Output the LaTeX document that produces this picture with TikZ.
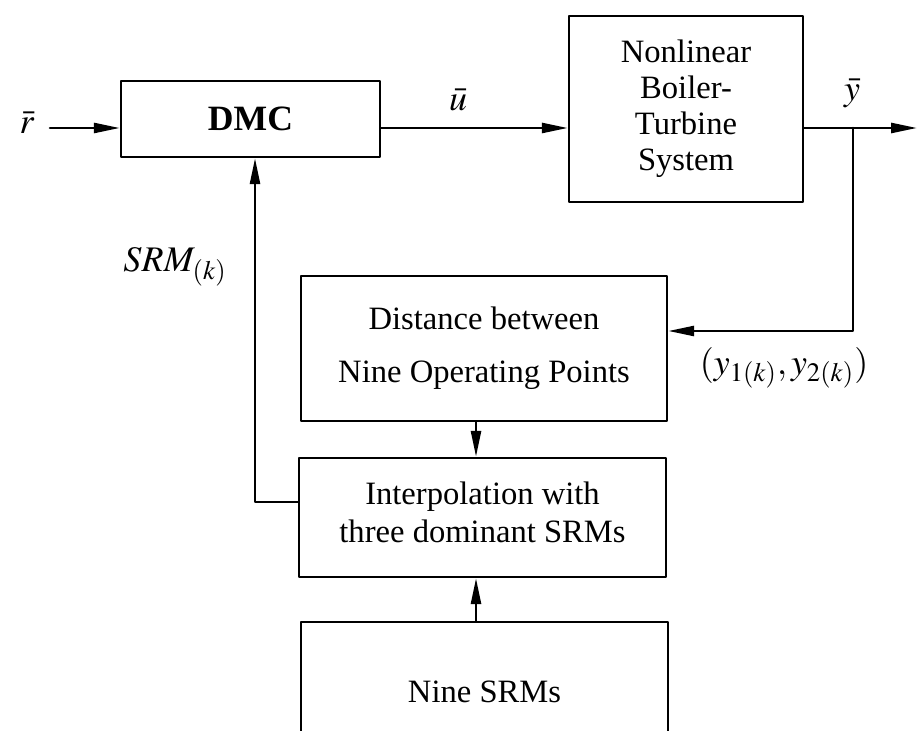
\documentclass[tikz,border=0pt]{standalone}
\usepackage{mathptmx}
\usepackage{fontspec}
\setmainfont{Liberation Serif}
\usetikzlibrary{arrows.meta}
\tikzset{
  blockbox/.style={draw,line width=1.2pt,inner sep=0pt,align=center,font=\fontsize{16.3}{18}\selectfont},
  siglabel/.style={inner sep=0pt,font=\fontsize{18}{20}\selectfont},
}
\begin{document}
\begin{tikzpicture}[line cap=round,line join=round,>={Triangle[length=13pt,width=5pt]},x=0.5pt,y=-0.5pt]
		\useasboundingbox (0,0) rectangle (919,731);
		% blocks
		\node [blockbox,minimum width=259*0.5pt,minimum height=76*0.5pt] (dmc) at (250.5,119) {\fontsize{17.8}{20}\selectfont\textbf{DMC}};
		\node [blockbox,minimum width=234*0.5pt,minimum height=186*0.5pt] (sys) at (686,109) {Nonlinear\\Boiler-\\Turbine\\System};
		\node [blockbox,minimum width=366*0.5pt,minimum height=145*0.5pt] (dist) at (484,348.5) {Distance between\\[8.5pt]Nine Operating Points};
		\node [blockbox,minimum width=367*0.5pt,minimum height=119*0.5pt] (interp) at (482.5,517.5) {Interpolation with\\[1pt]three dominant SRMs\\[-13pt]};
		\node [blockbox,minimum width=367*0.5pt,minimum height=140*0.5pt] (nine) at (484.5,692) {Nine SRMs};
		% labels
		\node [siglabel] (rlab) at (27,123) {$\bar{r}$};
		\node [siglabel] (ulab) at (458,100) {$\bar{u}$};
		\node [siglabel] (ylab) at (852,93) {$\bar{y}$};
		\node [siglabel] (srmlab) at (175,267) {$SRM_{(k)}$};
		\node [siglabel] (ypair) at (784,368) {$(y_{1(k)},y_{2(k)})$};
		% points
		\coordinate (rin) at (50,128);
		\coordinate (out) at (917,128);
		\coordinate (br) at (853,128);
		\coordinate (fb) at (853,331);
		\coordinate (mid) at (476,0);
		\coordinate (srm) at (255,502);
		% connectors
		\draw [line width=1.3pt,->] (rin) -- (rin -| dmc.west);
		\draw [line width=1.3pt,->] (dmc.east |- rin) -- (sys.west |- rin);
		\draw [line width=1.3pt,->] (sys.east |- rin) -- (out);
		\draw [line width=1.3pt,->] (br) -- (fb) -- (fb -| dist.east);
		\draw [line width=1.3pt,->] (dist.south -| mid) -- (interp.north -| mid);
		\draw [line width=1.3pt,->] (nine.north -| mid) -- (interp.south -| mid);
		\draw [line width=1.3pt,->] (interp.west |- srm) -- (srm) -- (srm |- dmc.south);
	\end{tikzpicture}
\end{document}
